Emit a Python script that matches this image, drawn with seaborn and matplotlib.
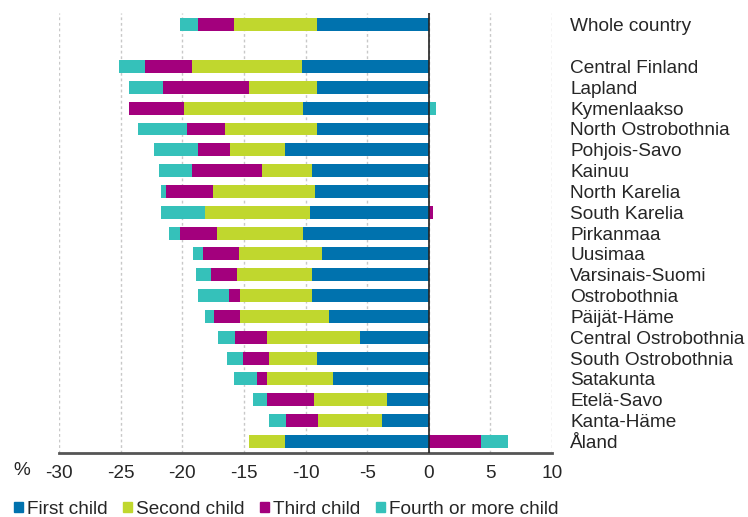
import numpy as np
import pandas as pd
import matplotlib
matplotlib.use("Agg")
import matplotlib.pyplot as plt
from matplotlib.patches import Patch
import seaborn as sns

# Data (% change)
regions = ["Whole country", "", "Central Finland", "Lapland", "Kymenlaakso",
           "North Ostrobothnia", "Pohjois-Savo", "Kainuu", "North Karelia",
           "South Karelia", "Pirkanmaa", "Uusimaa", "Varsinais-Suomi",
           "Ostrobothnia", "Päijät-Häme", "Central Ostrobothnia",
           "South Ostrobothnia", "Satakunta", "Etelä-Savo", "Kanta-Häme", "Åland"]
first = [-9.1, 0, -10.3, -9.1, -10.2, -9.1, -11.7, -9.5, -9.2, -9.6, -10.2,
         -8.7, -9.5, -9.5, -8.1, -5.6, -9.1, -7.8, -3.4, -3.8, -11.7]
second = [-6.7, 0, -8.9, -5.5, -9.7, -7.4, -4.4, -4.0, -8.3, -8.6, -7.0,
          -6.7, -6.1, -5.8, -7.2, -7.5, -3.9, -5.3, -5.9, -5.2, -2.9]
third = [-2.9, 0, -3.8, -7.0, -4.4, -3.1, -2.6, -5.7, -3.8, 0.35, -3.0,
         -2.9, -2.1, -0.9, -2.1, -2.6, -2.1, -0.8, -3.8, -2.6, 4.2]
fourth = [-1.5, 0, -2.1, -2.7, 0.6, -4.0, -3.6, -2.7, -0.4, -3.5, -0.9,
          -0.8, -1.2, -2.5, -0.8, -1.4, -1.3, -1.9, -1.2, -1.4, 2.2]
series = ["First child", "Second child", "Third child", "Fourth or more child"]
colors = ["#0072ae", "#c0d72e", "#a3007d", "#35c1ba"]

df = pd.DataFrame({"region": regions, series[0]: first, series[1]: second,
                   series[2]: third, series[3]: fourth})

sns.set_style("white")
plt.rcParams["font.family"] = ["Liberation Sans", "DejaVu Sans"]
fs = 13.7

fig = plt.figure(figsize=(7.48, 5.17), dpi=100)
ax = fig.add_axes([0.079, 0.124, 0.659, 0.851])

# stacked diverging bars: negatives grow left from 0, positives grow right
y = np.arange(len(df))
neg = np.zeros(len(df))
pos = np.zeros(len(df))
for name, col in zip(series, colors):
    vals = df[name].to_numpy()
    left = np.where(vals < 0, neg, pos)
    ax.barh(y, vals, left=left, height=0.62, color=col, linewidth=0)
    neg += np.where(vals < 0, vals, 0)
    pos += np.where(vals > 0, vals, 0)

ax.set_xlim(-30, 10)
ax.set_ylim(len(df) - 0.45, -0.57)
ax.set_xticks(range(-30, 11, 5))
ax.set_xticklabels([str(v) for v in range(-30, 11, 5)], fontsize=fs)
ax.grid(axis="x", color="#c8c8c8", linestyle=(0, (2, 2)), linewidth=1)
ax.set_axisbelow(True)
ax.axvline(0, color="#222222", linewidth=1.2, zorder=3)

ax.yaxis.tick_right()
ax.set_yticks(y)
ax.set_yticklabels(regions, fontsize=fs, ha="left")
ax.tick_params(axis="y", length=0, pad=13)
ax.tick_params(axis="x", length=0, pad=9)

for s in ["top", "left", "right"]:
    ax.spines[s].set_visible(False)
ax.spines["bottom"].set_color("#555555")
ax.spines["bottom"].set_linewidth(2)

fig.text(0.018, 0.082, "%", fontsize=fs)

handles = [Patch(color=c, label=s) for s, c in zip(series, colors)]
fig.legend(handles=handles, loc="lower left", bbox_to_anchor=(-0.004, -0.035),
           ncol=4, frameon=False, fontsize=fs, handlelength=0.45,
           handleheight=0.45, handletextpad=0.2, columnspacing=0.85)

fig.savefig("out.png", dpi=100)
